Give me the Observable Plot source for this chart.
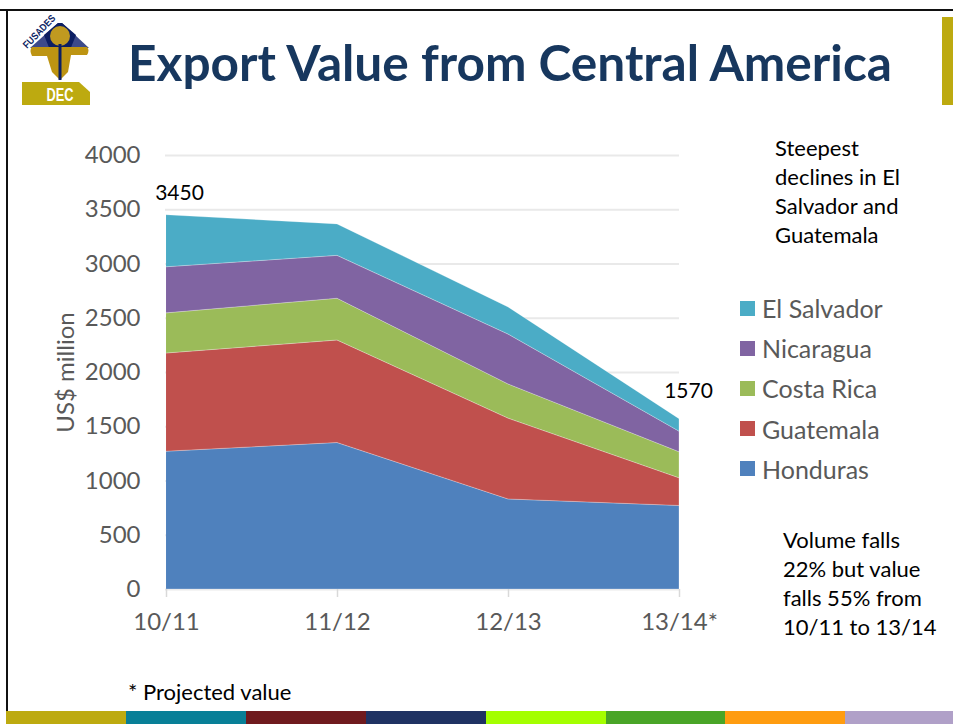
<!DOCTYPE html>
<html><head><meta charset="utf-8">
<script src="https://cdn.jsdelivr.net/npm/d3@7"></script>
<script src="https://cdn.jsdelivr.net/npm/@observablehq/plot@0.6"></script>
<style>
html,body{margin:0;padding:0;background:#fff;}
#page{position:relative;width:953px;height:724px;overflow:hidden;font-family:Lato,sans-serif;}
#chart{position:absolute;left:0;top:0;}
#chart svg{display:block;}
.abs{position:absolute;}
#title{left:128px;top:30px;font-size:49.6px;font-weight:700;color:#17375e;white-space:nowrap;line-height:64px;}
.note{color:#000;font-size:22px;line-height:29px;white-space:nowrap;}
.leg{left:740px;height:20px;display:flex;align-items:center;color:#595959;font-size:25px;white-space:nowrap;}
.leg i{display:block;width:15px;height:15px;margin-right:7px;}
.seg{position:absolute;top:711px;height:13px;}
</style></head><body>
<div id="page">
<div id="chart"></div>
<div class="abs" style="left:0;top:9px;width:953px;height:2px;background:#111"></div>
<div class="abs" style="left:6px;top:9px;width:2px;height:715px;background:#111"></div>
<div class="abs" style="left:942px;top:17px;width:11px;height:88px;background:#bdaa10"></div>
<svg class="abs" style="left:0;top:0" width="110" height="110" viewBox="0 0 110 110">
<path d="M30 48 L58 23 L62 23 L89 48Z" fill="#3c4a8a"/>
<path d="M44 35 L58 23 L62 23 L76 35 L70 50 L50 50Z" fill="#0b1e63"/>
<circle cx="60" cy="36" r="10" fill="#c09a20"/>
<path d="M32 47 H87 Q90 50 87 55 H71 L68 72 L60 80 L52 72 L47 56 H32 Q29 50 32 47Z" fill="#bd9412"/>
<rect x="58.500" y="44" width="3" height="36" fill="#0b1e63"/>
<path d="M22 82 H79 L90 92 V105 H22Z" fill="#bdaa10"/>
<text x="60" y="101" text-anchor="middle" font-family="Liberation Sans" font-weight="700" font-size="19" fill="#fff" textLength="27" lengthAdjust="spacingAndGlyphs">DEC</text>
<text transform="translate(27 49) rotate(-46)" font-family="Liberation Sans" font-weight="700" font-size="10" fill="#0b1e63" textLength="42" lengthAdjust="spacingAndGlyphs">FUSADES</text>
</svg>
<div id="title" class="abs">Export Value from Central America</div>
<div class="abs note" style="left:775px;top:133px">Steepest<br>declines in El<br>Salvador and<br>Guatemala</div>
<div class="abs note" style="left:783px;top:525px">Volume falls<br>22% but value<br>falls 55% from<br>10/11 to 13/14</div>
<div class="abs note" style="left:128px;top:677px">* Projected value</div>
<div id="legend"></div>
<div id="strip"></div>
</div>
<script>
const seasons = ["10/11","11/12","12/13","13/14*"];
const honduras = [1270,1350,830,770];
const guatemala = [905,945,745,255];
const costaRica = [370,385,315,240];
const nicaragua = [425,395,460,190];
const elSalvador = [480,290,250,115];
const seriesNames = ["Honduras","Guatemala","Costa Rica","Nicaragua","El Salvador"];
const seriesValues = [honduras,guatemala,costaRica,nicaragua,elSalvador];
const seriesColors = ["#4f81bd","#c0504d","#9bbb59","#8064a2","#4bacc6"];
const yTicks = [0,500,1000,1500,2000,2500,3000,3500,4000];
const stripColors = ["#bdaa10","#087f97","#6f1a1e","#1f3263","#a4ff00","#49a527","#ff9c10","#b0a0c8"];

const rows = seriesNames.flatMap((name,i)=>seasons.map((season,j)=>({name,season,value:seriesValues[i][j]})));

const chart = Plot.plot({
  width:953,height:724,
  marginLeft:165,marginRight:274,marginTop:155,marginBottom:135,
  style:{background:"transparent",fontFamily:"Lato,sans-serif",overflow:"visible"},
  x:{type:"point",domain:seasons,padding:0,label:null},
  y:{domain:[0,4000],label:null},
  color:{domain:seriesNames,range:seriesColors},
  marks:[
    Plot.gridY(yTicks,{stroke:"#e9e9e9",strokeOpacity:1,strokeWidth:2}),
    Plot.areaY(rows,{x:"season",y:"value",z:"name",fill:"name",order:seriesNames,fillOpacity:1,stroke:"#fff",strokeWidth:0.5,strokeOpacity:0.5}),
    Plot.axisY(yTicks,{tickSize:0,tickPadding:25,fontSize:24,fill:"#595959",tickFormat:d=>String(d),label:"US$ million",labelAnchor:"center",labelArrow:"none",labelOffset:109}),
    Plot.axisX(seasons,{tickSize:8,stroke:"#d9d9d9",strokeWidth:1.5,tickPadding:15,fontSize:24,fill:"#595959",label:null}),
    Plot.text(["10/11"],{x:d=>d,y:()=>3450,text:()=>"3450",fontSize:21,fill:"#000",dx:13,dy:-22}),
    Plot.text(["13/14*"],{x:d=>d,y:()=>1570,text:()=>"1570",fontSize:21,fill:"#000",dx:9,dy:-28})
  ]
});
document.getElementById("chart").append(chart);

const legend = document.getElementById("legend");
[...seriesNames].reverse().forEach((n,i)=>{
  const d=document.createElement("div");d.className="abs leg";d.style.top=(298+i*40.2)+"px";
  d.innerHTML=`<i style="background:${seriesColors[seriesNames.indexOf(n)]}"></i>${n}`;
  legend.append(d);
});
const strip=document.getElementById("strip");
stripColors.forEach((c,i)=>{
  const s=document.createElement("div");s.className="seg";
  s.style.left=(6+i*119.9)+"px";s.style.width="120px";s.style.background=c;strip.append(s);
});
</script>
</body></html>
